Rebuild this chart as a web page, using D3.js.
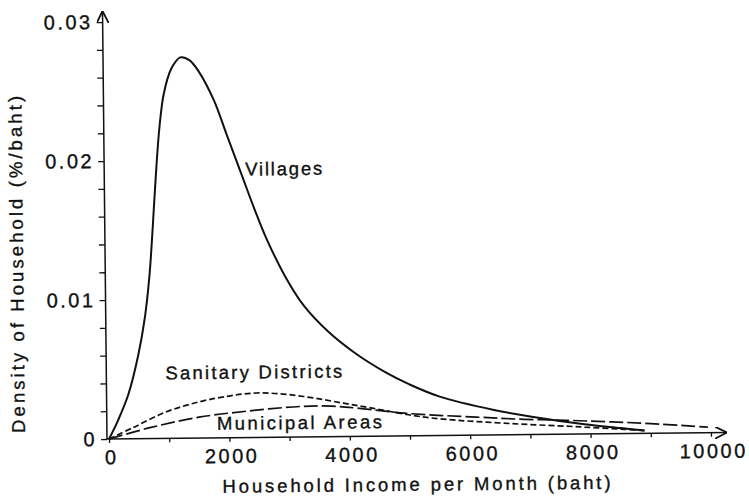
<!DOCTYPE html>
<html>
<head>
<meta charset="utf-8">
<script src="https://cdn.jsdelivr.net/npm/d3@7"></script>
<style>
  body { margin: 0; background: #fff; }
  svg text { font-family: "Liberation Sans", Arial, Helvetica, sans-serif; fill: #111; stroke: #111; stroke-width: 0.35px; }
</style>
</head>
<body>
<div id="chart"></div>
<script>
// values: [income (baht), density (%/baht)]
var villages = [[0,0],[150,0.0013],[330,0.0032],[500,0.0060],[620,0.0088],[700,0.0117],[760,0.0150],
  [820,0.0187],[890,0.0223],[970,0.0248],[1100,0.0266],[1250,0.0274],[1400,0.0272],[1550,0.0264],
  [1800,0.0243],[2000,0.0219],[2250,0.0189],[2450,0.0165],[2650,0.0143],[2950,0.0116],[3250,0.0095],
  [3650,0.0076],[4100,0.0060],[4600,0.0046],[5000,0.0037],[5500,0.0028],[6400,0.0018],[7000,0.0013],
  [7900,0.0007],[8500,0.0004],[8900,0.0002]];
var sanitary = [[0,0],[400,0.0008],[950,0.0019],[1500,0.0026],[2000,0.0030],[2450,0.0032],[2900,0.0031],
  [3400,0.0028],[3900,0.0024],[4400,0.0020],[5000,0.0015],[5500,0.0012],[6700,0.0008],[7900,0.0005],[8900,0.0002]];
var municipal = [[0,0],[700,0.0008],[1500,0.0015],[2300,0.0019],[3200,0.0022],[3700,0.0022],[4200,0.0020],
  [5000,0.0016],[6100,0.0013],[6900,0.0011],[7600,0.0010],[9000,0.0007],[9950,0.0004]];

var xMinorTicks = d3.range(0, 10001, 1000);
var xMajorTicks = [0, 2000, 4000, 6000, 8000, 10000];
var yMinorTicks = d3.range(0, 0.0301, 0.002);
var yMajorTicks = [0, 0.01, 0.02, 0.03];

var width = 749, height = 502;
var x0 = 109, y0 = 439;

var svg = d3.select("#chart").append("svg")
  .attr("width", width)
  .attr("height", height);

// arrowhead
svg.append("defs").append("marker")
  .attr("id", "arrow")
  .attr("viewBox", "0 0 10 10")
  .attr("refX", 10).attr("refY", 5)
  .attr("markerWidth", 12).attr("markerHeight", 12)
  .attr("markerUnits", "userSpaceOnUse")
  .attr("orient", "auto")
  .append("path")
    .attr("d", "M0,0 L10,5 L0,10")
    .attr("fill", "none")
    .attr("stroke", "#111")
    .attr("stroke-width", 1.5);

// the scan is tilted a little
var g = svg.append("g")
  .attr("transform", "rotate(-0.6," + x0 + "," + y0 + ")");

var x = d3.scaleLinear().domain([0, 10000]).range([x0, 711]);
var y = d3.scaleLinear().domain([0, 0.03]).range([y0, 22]);

// axis lines with arrows
g.append("line")
  .attr("x1", x0 - 2).attr("y1", y0).attr("x2", 727).attr("y2", y0)
  .attr("stroke", "#111").attr("stroke-width", 1.5)
  .attr("marker-end", "url(#arrow)");
g.append("line")
  .attr("x1", x0 - 2).attr("y1", y0).attr("x2", x0 - 2).attr("y2", 11)
  .attr("stroke", "#111").attr("stroke-width", 1.5)
  .attr("marker-end", "url(#arrow)");

// x ticks
var xMinor = g.append("g")
  .attr("transform", "translate(0," + y0 + ")")
  .call(d3.axisBottom(x).tickValues(xMinorTicks).tickSize(4).tickFormat(""));
var xMajor = g.append("g")
  .attr("transform", "translate(0," + y0 + ")")
  .call(d3.axisBottom(x).tickValues(xMajorTicks).tickSize(0).tickPadding(11).tickFormat(d3.format("d")));

// y ticks
var yMinor = g.append("g")
  .attr("transform", "translate(" + (x0 - 2) + ",0)")
  .call(d3.axisLeft(y).tickValues(yMinorTicks).tickSize(6).tickFormat(""));
var yMajor = g.append("g")
  .attr("transform", "translate(" + (x0 - 2) + ",0)")
  .call(d3.axisLeft(y).tickValues(yMajorTicks).tickSize(0).tickPadding(14)
    .tickFormat(function(d) { return d === 0 ? "0" : d3.format(".2f")(d); }));

[xMinor, xMajor, yMinor, yMajor].forEach(function(a) {
  a.select(".domain").remove();
  a.selectAll(".tick line").attr("stroke", "#111").attr("stroke-width", 1.3);
  a.selectAll("text").style("font-size", "20px").style("letter-spacing", "2.5px");
});
xMajor.selectAll("text").attr("dx", "2px");
yMajor.selectAll("text").attr("dx", "4px");

// curves
var line = d3.line()
  .x(function(d) { return x(d[0]); })
  .y(function(d) { return y(d[1]); })
  .curve(d3.curveCatmullRom.alpha(0.5));

g.append("path").datum(villages)
  .attr("d", line).attr("fill", "none")
  .attr("stroke", "#111").attr("stroke-width", 2);
g.append("path").datum(sanitary)
  .attr("d", line).attr("fill", "none")
  .attr("stroke", "#111").attr("stroke-width", 1.7)
  .attr("stroke-dasharray", "6,3");
g.append("path").datum(municipal)
  .attr("d", line).attr("fill", "none")
  .attr("stroke", "#111").attr("stroke-width", 1.7)
  .attr("stroke-dasharray", "14,4");

// curve labels
g.append("text").attr("x", 248).attr("y", 177).text("Villages")
  .style("font-size", "18.5px").attr("textLength", 77).attr("lengthAdjust", "spacing");
g.append("text").attr("x", 166).attr("y", 380).text("Sanitary Districts")
  .style("font-size", "18.5px").attr("textLength", 177).attr("lengthAdjust", "spacing");
g.append("text").attr("x", 217).attr("y", 431).text("Municipal Areas")
  .style("font-size", "18.5px").attr("textLength", 165).attr("lengthAdjust", "spacing");

// axis titles
g.append("text").attr("x", 222).attr("y", 494).text("Household Income per Month (baht)")
  .style("font-size", "18.5px").attr("textLength", 388).attr("lengthAdjust", "spacing");
g.append("text")
  .attr("transform", "translate(25,432) rotate(-90)")
  .text("Density of Household (%/baht)")
  .style("font-size", "18.5px").attr("textLength", 337).attr("lengthAdjust", "spacing");
</script>
</body>
</html>
